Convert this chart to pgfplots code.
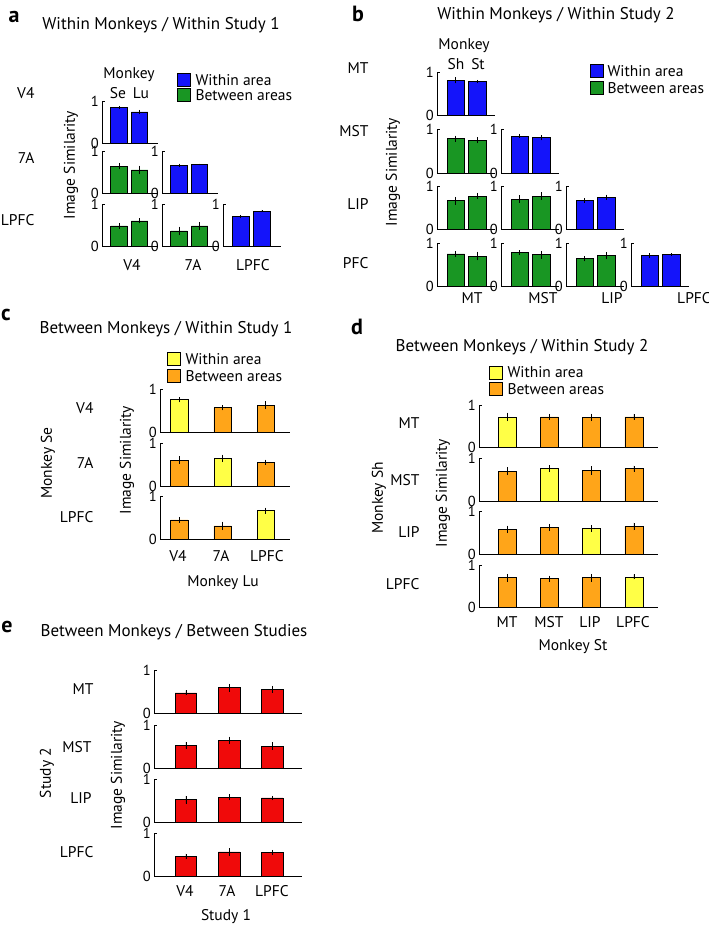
\documentclass[border=0pt]{standalone}
\usepackage{fontspec}
\setmainfont{PT Sans}
\usepackage{pgfplots}
\pgfplotsset{compat=1.18}

\definecolor{cblue}{RGB}{20,20,250}
\definecolor{cgreen}{RGB}{25,150,35}
\definecolor{cyel}{RGB}{255,255,70}
\definecolor{corg}{RGB}{255,165,25}
\definecolor{cred}{RGB}{240,10,10}

\newcommand{\lab}{\fontsize{15.5}{18}\selectfont}
\newcommand{\tck}{\fontsize{14.5}{16}\selectfont}
\newcommand{\ttl}{\fontsize{17}{20}\selectfont}
\newcommand{\pnl}{\fontsize{22}{26}\selectfont\bfseries}

\tikzset{lkey/.style={draw=black, line width=0.5pt, minimum size=13pt, inner sep=0pt}}

\pgfplotsset{
  mini/.style={scale only axis, anchor=south west, axis lines=left,
    axis line style={-, line width=0.9pt}, ymin=0, ymax=1, ytick={0,1}, xtick=\empty,
    tick align=inside, major tick length=3pt, tick style={line width=0.6pt, black},
    yticklabel style={font=\tck, inner sep=0pt, xshift=-3pt},
    /pgf/number format/assume math mode=true, clip=false,
    every axis plot/.append style={ybar, bar shift=0pt, draw=black, line width=0.6pt,
      error bars/y dir=both, error bars/y explicit, error bars/error mark=none,
      error bars/error bar style={line width=0.7pt, black}}},
  pa/.style={mini, width=56pt, height=42pt, xmin=0.17, xmax=2.9, bar width=16.5pt},
  pb/.style={mini, width=58pt, height=43.5pt, xmin=0.12, xmax=2.84, bar width=17.5pt},
  pc/.style={mini, width=130pt, height=42.5pt, xmin=0.55, xmax=3.56, bar width=17.5pt},
  pd/.style={mini, width=179pt, height=42.5pt, xmin=0.33, xmax=4.57, bar width=18pt},
  pe/.style={mini, width=148pt, height=43pt, xmin=0.26, xmax=3.69, bar width=21.5pt},
}

\begin{document}
\begin{tikzpicture}
\useasboundingbox (0,0) rectangle (709pt,-926pt);

% ---------------- panel a
\node[font=\pnl] at (14pt,-17pt) {a};
\node[font=\ttl] at (161pt,-25pt) {Within Monkeys / Within Study 1};
\node[lkey, fill=cblue] at (184pt,-80pt) {};
\node[lkey, fill=cgreen] at (184pt,-95pt) {};
\node[font=\lab, anchor=west] at (192pt,-80pt) {Within area};
\node[font=\lab, anchor=west] at (192pt,-95pt) {Between areas};
\node[font=\lab] at (129pt,-75pt) {Monkey};
\node[font=\lab] at (118pt,-93pt) {Se};
\node[font=\lab] at (141pt,-93pt) {Lu};
\node[font=\lab, anchor=east] at (38pt,-93pt) {V4};
\node[font=\lab, anchor=east] at (38pt,-158pt) {7A};
\node[font=\lab, anchor=east] at (38pt,-220pt) {LPFC};
\node[font=\lab, rotate=90] at (71pt,-165pt) {Image Similarity};
\node[font=\lab] at (132pt,-265pt) {V4};
\node[font=\lab] at (193pt,-265pt) {7A};
\node[font=\lab] at (253pt,-265pt) {LPFC};

\begin{axis}[pa, at={(102pt,-143pt)}]
\addplot[fill=cblue] coordinates {(1,0.84) +- (0,0.03) (2,0.74) +- (0,0.05)};
\end{axis}
\begin{axis}[pa, at={(102pt,-193pt)}]
\addplot[fill=cgreen] coordinates {(1,0.64) +- (0,0.08) (2,0.55) +- (0,0.10)};
\end{axis}
\begin{axis}[pa, at={(162pt,-193pt)}]
\addplot[fill=cblue] coordinates {(1,0.66) +- (0,0.04) (2,0.68) +- (0,0.02)};
\end{axis}
\begin{axis}[pa, at={(102pt,-246pt)}]
\addplot[fill=cgreen] coordinates {(1,0.48) +- (0,0.07) (2,0.60) +- (0,0.06)};
\end{axis}
\begin{axis}[pa, at={(162pt,-246pt)}]
\addplot[fill=cgreen] coordinates {(1,0.36) +- (0,0.10) (2,0.48) +- (0,0.09)};
\end{axis}
\begin{axis}[pa, at={(223pt,-246pt)}, width=58pt]
\addplot[fill=cblue] coordinates {(1,0.70) +- (0,0.04) (2,0.83) +- (0,0.03)};
\end{axis}

% ---------------- panel b
\node[font=\pnl] at (358pt,-14pt) {b};
\node[font=\ttl] at (556pt,-15pt) {Within Monkeys / Within Study 2};
\node[lkey, fill=cblue] at (596.5pt,-71pt) {};
\node[lkey, fill=cgreen] at (596.5pt,-88pt) {};
\node[font=\lab, anchor=west] at (604pt,-71pt) {Within area};
\node[font=\lab, anchor=west] at (604pt,-88pt) {Between areas};
\node[font=\lab] at (464pt,-46pt) {Monkey};
\node[font=\lab] at (456pt,-64pt) {Sh};
\node[font=\lab] at (478pt,-64pt) {St};
\node[font=\lab, anchor=east] at (372pt,-68pt) {MT};
\node[font=\lab, anchor=east] at (372pt,-131pt) {MST};
\node[font=\lab, anchor=east] at (372pt,-204pt) {LIP};
\node[font=\lab, anchor=east] at (372pt,-263pt) {PFC};
\node[font=\lab, rotate=90] at (393pt,-172pt) {Image Similarity};
\node[font=\lab] at (472pt,-298pt) {MT};
\node[font=\lab] at (543pt,-298pt) {MST};
\node[font=\lab] at (612pt,-298pt) {LIP};
\node[font=\lab] at (694pt,-298pt) {LPFC};

\begin{axis}[pb, at={(437pt,-115.5pt)}]
\addplot[fill=cblue] coordinates {(1,0.81) +- (0,0.07) (2,0.78) +- (0,0.04)};
\end{axis}
\begin{axis}[pb, at={(437pt,-173pt)}]
\addplot[fill=cgreen] coordinates {(1,0.79) +- (0,0.07) (2,0.75) +- (0,0.07)};
\end{axis}
\begin{axis}[pb, at={(501pt,-173pt)}]
\addplot[fill=cblue] coordinates {(1,0.85) +- (0,0.05) (2,0.81) +- (0,0.06)};
\end{axis}
\begin{axis}[pb, at={(437pt,-229.5pt)}]
\addplot[fill=cgreen] coordinates {(1,0.66) +- (0,0.09) (2,0.77) +- (0,0.07)};
\end{axis}
\begin{axis}[pb, at={(501pt,-229.5pt)}]
\addplot[fill=cgreen] coordinates {(1,0.70) +- (0,0.09) (2,0.77) +- (0,0.09)};
\end{axis}
\begin{axis}[pb, at={(566pt,-229.5pt)}]
\addplot[fill=cblue] coordinates {(1,0.67) +- (0,0.05) (2,0.74) +- (0,0.06)};
\end{axis}
\begin{axis}[pb, at={(437pt,-286.5pt)}]
\addplot[fill=cgreen] coordinates {(1,0.75) +- (0,0.07) (2,0.70) +- (0,0.10)};
\end{axis}
\begin{axis}[pb, at={(501pt,-286.5pt)}]
\addplot[fill=cgreen] coordinates {(1,0.78) +- (0,0.05) (2,0.73) +- (0,0.09)};
\end{axis}
\begin{axis}[pb, at={(566pt,-286.5pt)}]
\addplot[fill=cgreen] coordinates {(1,0.64) +- (0,0.06) (2,0.71) +- (0,0.08)};
\end{axis}
\begin{axis}[pb, at={(631pt,-286.5pt)}]
\addplot[fill=cblue] coordinates {(1,0.71) +- (0,0.06) (2,0.73) +- (0,0.03)};
\end{axis}

% ---------------- panel c
\node[font=\pnl] at (6pt,-315pt) {c};
\node[font=\ttl] at (166pt,-329pt) {Between Monkeys / Within Study 1};
\node[lkey, fill=cyel] at (173.5pt,-359pt) {};
\node[lkey, fill=corg] at (173.5pt,-376pt) {};
\node[font=\lab, anchor=west] at (182pt,-359pt) {Within area};
\node[font=\lab, anchor=west] at (182pt,-376pt) {Between areas};
\node[font=\lab, anchor=east] at (97pt,-408pt) {V4};
\node[font=\lab, anchor=east] at (97pt,-463pt) {7A};
\node[font=\lab, anchor=east] at (97pt,-517pt) {LPFC};
\node[font=\lab, rotate=90] at (48pt,-463pt) {Monkey Se};
\node[font=\lab, rotate=90] at (127pt,-460pt) {Image Similarity};
\node[font=\lab] at (178pt,-556pt) {V4};
\node[font=\lab] at (221pt,-556pt) {7A};
\node[font=\lab] at (267pt,-556pt) {LPFC};
\node[font=\lab] at (223pt,-583pt) {Monkey Lu};

\begin{axis}[pc, at={(160pt,-432pt)}]
\addplot[fill=cyel] coordinates {(1,0.76) +- (0,0.06)};
\addplot[fill=corg] coordinates {(2,0.57) +- (0,0.06) (3,0.63) +- (0,0.09)};
\end{axis}
\begin{axis}[pc, at={(160pt,-486pt)}]
\addplot[fill=cyel] coordinates {(2,0.65) +- (0,0.09)};
\addplot[fill=corg] coordinates {(1,0.61) +- (0,0.09) (3,0.56) +- (0,0.06)};
\end{axis}
\begin{axis}[pc, at={(160pt,-539pt)}]
\addplot[fill=cyel] coordinates {(3,0.67) +- (0,0.07)};
\addplot[fill=corg] coordinates {(1,0.45) +- (0,0.07) (2,0.31) +- (0,0.10)};
\end{axis}

% ---------------- panel d
\node[font=\pnl] at (357pt,-327pt) {d};
\node[font=\ttl] at (522pt,-347pt) {Between Monkeys / Within Study 2};
\node[lkey, fill=cyel] at (496pt,-372.5pt) {};
\node[lkey, fill=corg] at (496pt,-389pt) {};
\node[font=\lab, anchor=west] at (504pt,-372.5pt) {Within area};
\node[font=\lab, anchor=west] at (504pt,-389pt) {Between areas};
\node[font=\lab, anchor=east] at (423pt,-423pt) {MT};
\node[font=\lab, anchor=east] at (423pt,-480pt) {MST};
\node[font=\lab, anchor=east] at (423pt,-532pt) {LIP};
\node[font=\lab, anchor=east] at (423pt,-584pt) {LPFC};
\node[font=\lab, rotate=90] at (379pt,-498pt) {Monkey Sh};
\node[font=\lab, rotate=90] at (443pt,-493pt) {Image Similarity};
\node[font=\lab] at (507pt,-622pt) {MT};
\node[font=\lab] at (549pt,-622pt) {MST};
\node[font=\lab] at (590pt,-622pt) {LIP};
\node[font=\lab] at (633pt,-622pt) {LPFC};
\node[font=\lab] at (573pt,-647pt) {Monkey St};

\begin{axis}[pd, at={(479pt,-447.5pt)}]
\addplot[fill=cyel] coordinates {(1,0.72) +- (0,0.10)};
\addplot[fill=corg] coordinates {(2,0.72) +- (0,0.07) (3,0.71) +- (0,0.09) (4,0.72) +- (0,0.07)};
\end{axis}
\begin{axis}[pd, at={(479pt,-501pt)}]
\addplot[fill=cyel] coordinates {(2,0.76) +- (0,0.08)};
\addplot[fill=corg] coordinates {(1,0.70) +- (0,0.09) (3,0.72) +- (0,0.10) (4,0.76) +- (0,0.07)};
\end{axis}
\begin{axis}[pd, at={(479pt,-554pt)}]
\addplot[fill=cyel] coordinates {(3,0.60) +- (0,0.08)};
\addplot[fill=corg] coordinates {(1,0.58) +- (0,0.09) (2,0.63) +- (0,0.08) (4,0.65) +- (0,0.09)};
\end{axis}
\begin{axis}[pd, at={(479pt,-607.5pt)}]
\addplot[fill=cyel] coordinates {(4,0.72) +- (0,0.06)};
\addplot[fill=corg] coordinates {(1,0.70) +- (0,0.09) (2,0.68) +- (0,0.07) (3,0.70) +- (0,0.09)};
\end{axis}

% ---------------- panel e
\node[font=\pnl] at (7pt,-627pt) {e};
\node[font=\ttl] at (174pt,-632pt) {Between Monkeys / Between Studies};
\node[font=\lab, anchor=east] at (97pt,-689pt) {MT};
\node[font=\lab, anchor=east] at (95pt,-747pt) {MST};
\node[font=\lab, anchor=east] at (95pt,-798pt) {LIP};
\node[font=\lab, anchor=east] at (97pt,-852pt) {LPFC};
\node[font=\lab, rotate=90] at (47pt,-773pt) {Study 2};
\node[font=\lab, rotate=90] at (118pt,-775pt) {Image Similarity};
\node[font=\lab] at (185pt,-891pt) {V4};
\node[font=\lab] at (227pt,-891pt) {7A};
\node[font=\lab] at (272pt,-891pt) {LPFC};
\node[font=\lab] at (226pt,-917pt) {Study 1};

\begin{axis}[pe, at={(154pt,-713.5pt)}]
\addplot[fill=cred] coordinates {(1,0.48) +- (0,0.06) (2,0.60) +- (0,0.09) (3,0.56) +- (0,0.08)};
\end{axis}
\begin{axis}[pe, at={(154pt,-768pt)}]
\addplot[fill=cred] coordinates {(1,0.53) +- (0,0.08) (2,0.65) +- (0,0.08) (3,0.51) +- (0,0.09)};
\end{axis}
\begin{axis}[pe, at={(154pt,-822pt)}]
\addplot[fill=cred] coordinates {(1,0.52) +- (0,0.09) (2,0.58) +- (0,0.07) (3,0.56) +- (0,0.05)};
\end{axis}
\begin{axis}[pe, at={(154pt,-876pt)}]
\addplot[fill=cred] coordinates {(1,0.46) +- (0,0.06) (2,0.56) +- (0,0.09) (3,0.55) +- (0,0.06)};
\end{axis}
\end{tikzpicture}
\end{document}
